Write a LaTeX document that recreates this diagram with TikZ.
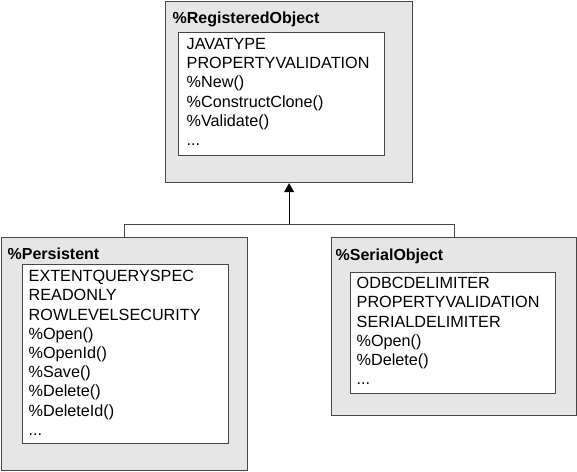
\documentclass[tikz,border=0pt]{standalone}
\usepackage{fontspec}
\setmainfont{Liberation Sans}
\usetikzlibrary{arrows.meta,positioning,calc}

\definecolor{boxfill}{HTML}{E6E6E6}
\definecolor{boxline}{HTML}{474747}

\tikzset{
  classbox/.style={draw=boxline, line width=1.2pt, fill=boxfill, anchor=north west, inner sep=0pt},
  listbox/.style={draw=boxline, line width=1pt, fill=white, anchor=north west, inner sep=0pt},
  classname/.style={anchor=base west, inner sep=0pt, font=\fontsize{16}{19.2}\selectfont\bfseries},
  members/.style={anchor=north west, inner sep=0pt, align=left, font=\fontsize{16.2}{19.2}\selectfont},
  link/.style={draw=boxline, line width=0.9pt}
}

\begin{document}
\begin{tikzpicture}[x=1pt, y=1pt]
\useasboundingbox (0,0) rectangle (577,-471);

% Base class
\node[classbox, minimum width=247pt, minimum height=181pt] (reg) at (165,-1) {};
\node[listbox, minimum width=206pt, minimum height=123pt] (reglist) at (178,-32) {};
\node[classname] (regname) at (172.5,-23) {\%RegisteredObject};
\node[members] (regitems) at (186.5,-38.2) {JAVATYPE\\PROPERTYVALIDATION\\\%New()\\\%ConstructClone()\\\%Validate()\\...};

% Subclasses
\node[classbox, minimum width=246pt, minimum height=233pt] (pers) at (1,-237) {};
\node[listbox, minimum width=206pt, minimum height=179pt] (perslist) at (22,-264) {};
\node[classname] (persname) at (7.5,-259) {\%Persistent};
\node[members] (persitems) at (28.5,-270.2) {EXTENTQUERYSPEC\\READONLY\\ROWLEVELSECURITY\\\%Open()\\\%OpenId()\\\%Save()\\\%Delete()\\\%DeleteId()\\...};

\node[classbox, minimum width=245pt, minimum height=178pt] (ser) at (331,-237) {};
\node[listbox, minimum width=205pt, minimum height=121pt] (serlist) at (350,-272) {};
\node[classname] (sername) at (335.5,-260) {\%SerialObject};
\node[members] (seritems) at (356.5,-277.2) {ODBCDELIMITER\\PROPERTYVALIDATION\\SERIALDELIMITER\\\%Open()\\\%Delete()\\...};

% Inheritance
\coordinate (join) at ($(reg.south)+(0,-41)$);
\draw[link] (pers.north) |- (join) -| (ser.north);
\draw[link, draw=black, -{Triangle[length=9pt, width=10pt]}] (join) -- (reg.south);

\end{tikzpicture}
\end{document}
